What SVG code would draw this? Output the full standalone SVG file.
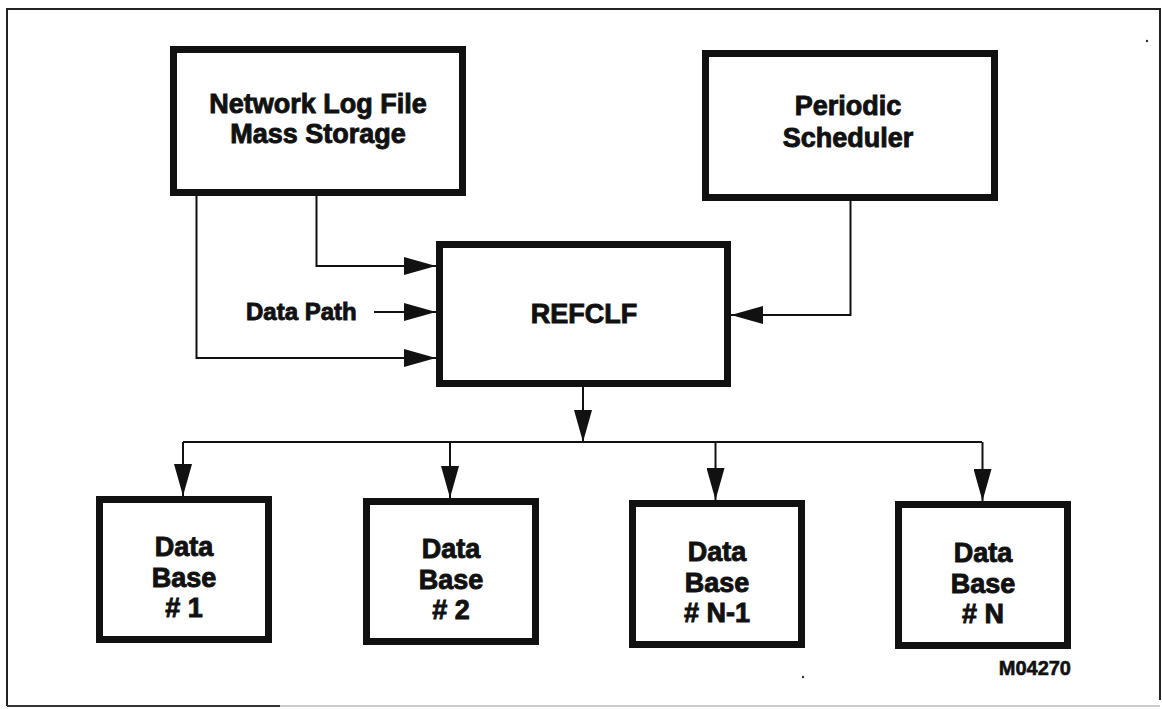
<svg xmlns="http://www.w3.org/2000/svg" width="1162" height="709" viewBox="0 0 1162 709">
  <defs>
    <marker id="arrow" markerUnits="userSpaceOnUse" markerWidth="32" markerHeight="18" refX="32" refY="9" orient="auto">
      <path d="M0,0 L32,9 L0,18 z" fill="#111"/>
    </marker>
    <style>
      .box { fill: #fff; stroke: #111; stroke-width: 7; }
      .lbl { font-family: "Liberation Sans", Arial, sans-serif; font-weight: bold; font-size: 27px; fill: #111; stroke: #111; stroke-width: 0.9; text-anchor: middle; }
      .small { font-size: 24px; text-anchor: start; }
      .tag { font-size: 20px; text-anchor: end; stroke-width: 0.6; }
      .wire { fill: none; stroke: #111; stroke-width: 2; }
      .arr { marker-end: url(#arrow); }
    </style>
  </defs>

  <rect width="1162" height="709" fill="#fff"/>

  <!-- page frame -->
  <g id="frame" fill="none" stroke-width="2">
    <path d="M7,706 V9 H1160 V700" stroke="#222"/>
    <path d="M7,706 H280" stroke="#333"/>
    <path d="M280,706 H1160" stroke="#ccc"/>
  </g>

  <!-- connectors -->
  <g id="connectors">
    <path class="wire arr" d="M316.5,196 V266 H436"/>
    <path class="wire arr" d="M196.5,196 V358 H436"/>
    <path class="wire arr" d="M374,312 H436"/>
    <path class="wire arr" d="M850.5,201 V315 H731"/>
    <path class="wire arr" d="M583,387 V442"/>
    <path class="wire" d="M183,442 H982"/>
    <path class="wire arr" d="M183,442 V496"/>
    <path class="wire arr" d="M450,442 V498"/>
    <path class="wire arr" d="M715.5,442 V500"/>
    <path class="wire arr" d="M982.5,442 V501"/>
  </g>

  <g id="network-log">
    <rect class="box" x="173.5" y="49.5" width="289" height="143"/>
    <text class="lbl" x="318" y="113">Network Log File</text>
    <text class="lbl" x="318" y="143">Mass Storage</text>
  </g>

  <g id="periodic-scheduler">
    <rect class="box" x="705.5" y="53.5" width="289" height="144"/>
    <text class="lbl" x="848" y="115">Periodic</text>
    <text class="lbl" x="848" y="147">Scheduler</text>
  </g>

  <g id="refclf">
    <rect class="box" x="439.5" y="244.5" width="288" height="139"/>
    <text class="lbl" x="584" y="323">REFCLF</text>
  </g>

  <g id="data-path">
    <text class="lbl small" x="246" y="320">Data Path</text>
  </g>

  <g id="db-1">
    <rect class="box" x="99.5" y="499.5" width="169" height="140"/>
    <text class="lbl" x="184" y="556">Data</text>
    <text class="lbl" x="184" y="587">Base</text>
    <text class="lbl" x="184" y="617"># 1</text>
  </g>

  <g id="db-2">
    <rect class="box" x="366.5" y="501.5" width="169" height="140"/>
    <text class="lbl" x="451" y="558">Data</text>
    <text class="lbl" x="451" y="589">Base</text>
    <text class="lbl" x="451" y="619"># 2</text>
  </g>

  <g id="db-n-1">
    <rect class="box" x="632.5" y="503.5" width="169" height="141"/>
    <text class="lbl" x="717" y="561">Data</text>
    <text class="lbl" x="717" y="592">Base</text>
    <text class="lbl" x="717" y="622"># N-1</text>
  </g>

  <g id="db-n">
    <rect class="box" x="898.5" y="504.5" width="169" height="141"/>
    <text class="lbl" x="983" y="562">Data</text>
    <text class="lbl" x="983" y="593">Base</text>
    <text class="lbl" x="983" y="623"># N</text>
  </g>

  <g id="figure-id">
    <text class="lbl tag" x="1071" y="675">M04270</text>
  </g>

  <!-- stray specks on the sheet -->
  <g id="specks" fill="#333">
    <circle cx="1147" cy="41" r="1.2"/>
    <circle cx="803" cy="677" r="1.2"/>
  </g>
</svg>
